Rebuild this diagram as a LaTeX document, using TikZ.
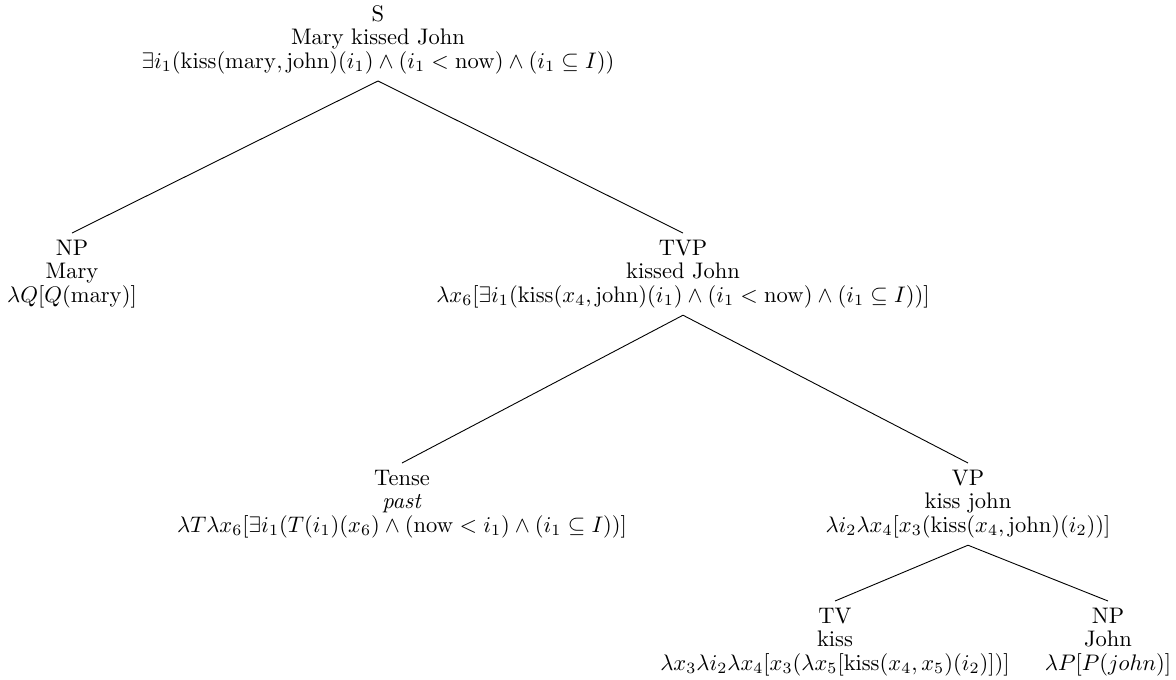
\documentclass[tikz,border=0pt]{standalone}
\begin{document}
\begin{tikzpicture}[x=0.4444pt,y=-0.4444pt,
  tnode/.style={align=center, font=\fontsize{10}{10.4}\selectfont, inner sep=3pt},
  branch/.style={line width=0.4pt}]
\useasboundingbox (0,0) rectangle (1176,679);

% tree nodes: category, phrase, translation
\node[tnode, anchor=south] (s) at (378,81)
  {S\\Mary kissed John\\$\exists i_1(\mathrm{kiss}(\mathrm{mary},\mathrm{john})(i_1)\wedge(i_1<\mathrm{now})\wedge(i_1\subseteq I))$};
\node[tnode, anchor=north] (npm) at (72,233)
  {NP\\Mary\\$\lambda Q[Q(\mathrm{mary})]$};
\node[tnode, anchor=north] (tvp) at (683,233)
  {TVP\\kissed John\\$\lambda x_6[\exists i_1(\mathrm{kiss}(x_4,\mathrm{john})(i_1)\wedge(i_1<\mathrm{now})\wedge(i_1\subseteq I))]$};
\node[tnode, anchor=north] (tense) at (402,463)
  {Tense\\\textit{past}\\$\lambda T\lambda x_6[\exists i_1(T(i_1)(x_6)\wedge(\mathrm{now}<i_1)\wedge(i_1\subseteq I))]$};
\node[tnode, anchor=north] (vp) at (968,463)
  {VP\\kiss john\\$\lambda i_2\lambda x_4[x_3(\mathrm{kiss}(x_4,\mathrm{john})(i_2))]$};
\node[tnode, anchor=north] (tv) at (835,601)
  {TV\\kiss\\$\lambda x_3\lambda i_2\lambda x_4[x_3(\lambda x_5[\mathrm{kiss}(x_4,x_5)(i_2)])]$};
\node[tnode, anchor=north] (npj) at (1108,601)
  {NP\\John\\$\lambda P[P(john)]$};

% branches
\draw[branch] (s.south) -- (npm.north);
\draw[branch] (s.south) -- (tvp.north);
\draw[branch] (tvp.south) -- (tense.north);
\draw[branch] (tvp.south) -- (vp.north);
\draw[branch] (vp.south) -- (tv.north);
\draw[branch] (vp.south) -- (npj.north);
\end{tikzpicture}
\end{document}
